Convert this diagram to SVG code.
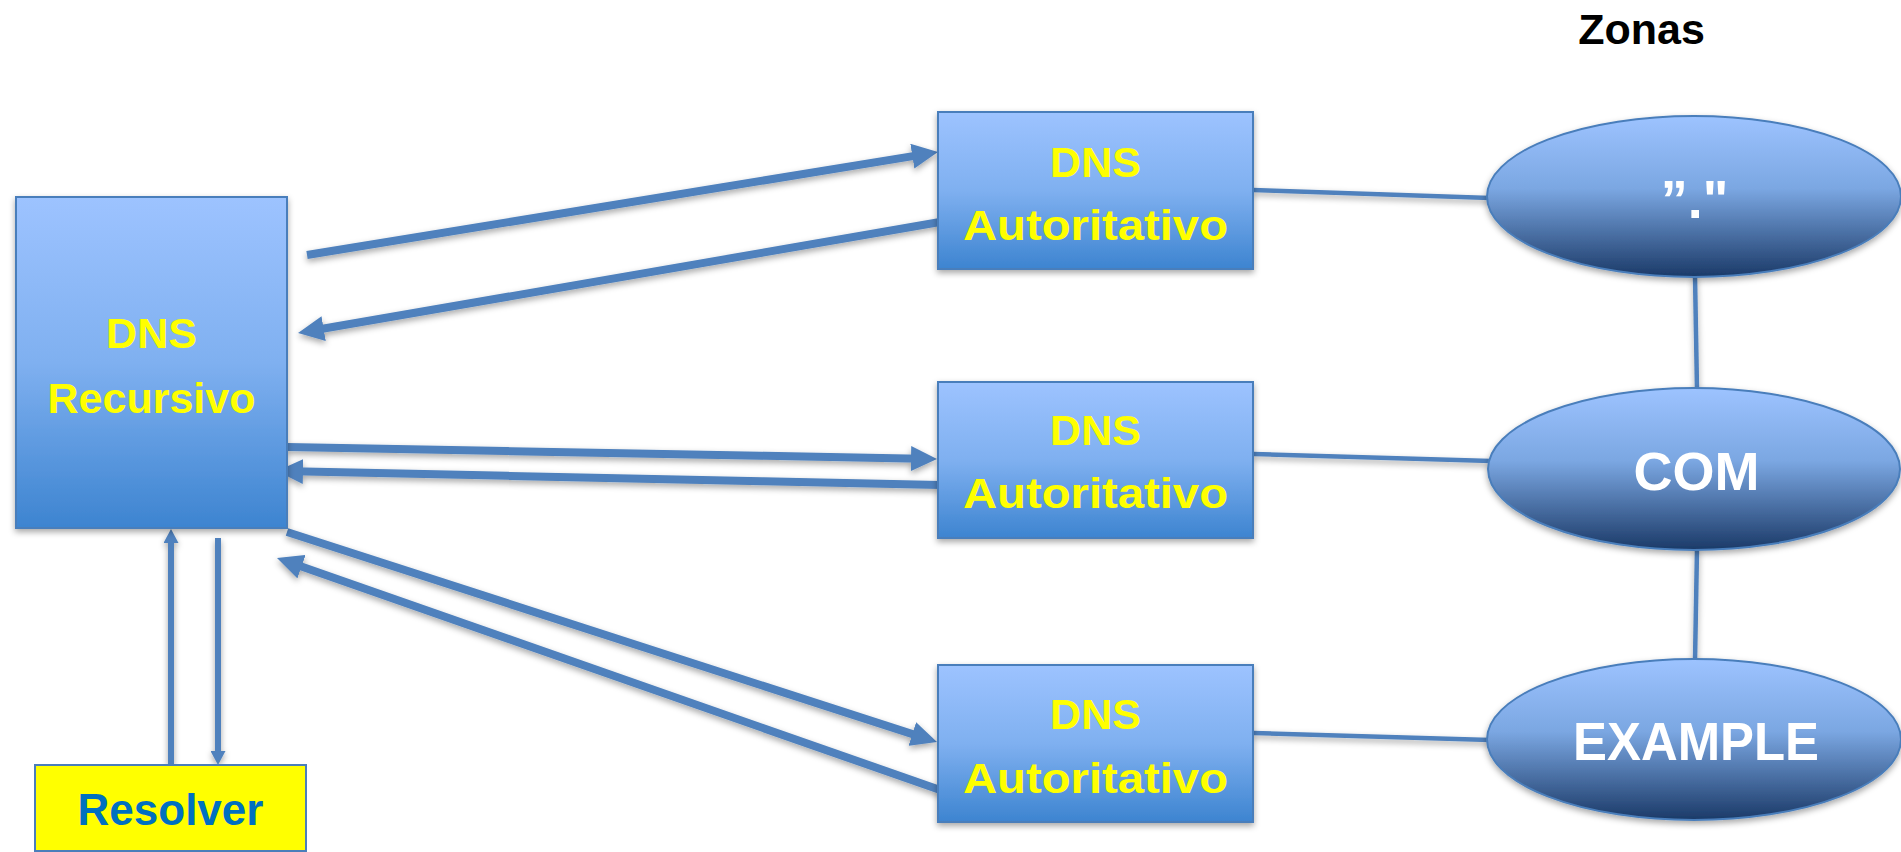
<svg xmlns="http://www.w3.org/2000/svg" width="1901" height="852" viewBox="0 0 1901 852">
<style>
.box{stroke:#4a7ebb;stroke-width:2;fill:url(#boxg)}
.ell{stroke:#4a7ebb;stroke-width:2;fill:url(#ellg)}
.t{font-family:"Liberation Sans",Arial,sans-serif;font-weight:bold;text-anchor:middle}
.y{fill:#ffff00;font-size:43px}
.w{fill:#ffffff;font-size:54px}
.arr{stroke:#4f81bd;stroke-width:8;fill:none}
.arrs{stroke:#4f81bd;stroke-width:6;fill:none}
.ln{stroke:#4f81bd;stroke-width:4.5;fill:none}
</style>
<defs>
<linearGradient id="boxg" x1="0" y1="0" x2="0" y2="1">
<stop offset="0" stop-color="#9dc3ff"/>
<stop offset="0.5" stop-color="#7fb0f0"/>
<stop offset="1" stop-color="#3d84d0"/>
</linearGradient>
<linearGradient id="ellg" x1="0" y1="0" x2="0" y2="1">
<stop offset="0" stop-color="#9dc3ff"/>
<stop offset="0.45" stop-color="#7ba7e2"/>
<stop offset="1" stop-color="#1b3a68"/>
</linearGradient>
<filter id="sh" x="-10%" y="-10%" width="130%" height="130%">
<feDropShadow dx="0" dy="3" stdDeviation="3" flood-color="#000" flood-opacity="0.35"/>
</filter>
<marker id="ah" markerUnits="userSpaceOnUse" markerWidth="26" markerHeight="25" refX="10" refY="12.5" orient="auto">
<path d="M0,0 L26,12.5 L0,25 z" fill="#4f81bd"/>
</marker>
<marker id="ahs" markerUnits="userSpaceOnUse" markerWidth="14" markerHeight="15" refX="4" refY="7.5" orient="auto">
<path d="M0,0 L14,7.5 L0,15 z" fill="#4f81bd"/>
</marker>
</defs>
<rect width="1901" height="852" fill="#ffffff"/>

<text class="t" x="1641.5" y="44" font-size="43" fill="#000000">Zonas</text>

<g id="connectors" filter="url(#sh)">
<line class="arr" x1="307" y1="255" x2="922.2" y2="154.6" marker-end="url(#ah)"/>
<line class="arr" x1="940" y1="222" x2="313.8" y2="330.3" marker-end="url(#ah)"/>
<line class="arr" x1="287" y1="447" x2="921" y2="458.7" marker-end="url(#ah)"/>
<line class="arr" x1="940" y1="485" x2="293" y2="471.3" marker-end="url(#ah)"/>
<line class="arr" x1="287" y1="532" x2="921.8" y2="737.1" marker-end="url(#ah)"/>
<line class="arr" x1="943" y1="791" x2="292.1" y2="563.3" marker-end="url(#ah)"/>
<line class="arrs" x1="171" y1="765" x2="171" y2="539" marker-end="url(#ahs)"/>
<line class="arrs" x1="218" y1="538" x2="218" y2="755" marker-end="url(#ahs)"/>
<line class="ln" x1="1253" y1="190" x2="1490" y2="198"/>
<line class="ln" x1="1253" y1="454" x2="1491" y2="461"/>
<line class="ln" x1="1253" y1="733" x2="1490" y2="740"/>
<line class="ln" x1="1695" y1="276" x2="1697" y2="390"/>
<line class="ln" x1="1697" y1="549" x2="1695" y2="661"/>
</g>

<g id="recursivo">
<rect class="box" x="16" y="197" width="271" height="331" filter="url(#sh)"/>
<text class="t y" x="151.5" y="348">DNS</text>
<text class="t y" x="151.5" y="413">Recursivo</text>
</g>

<g id="resolver">
<rect x="35" y="765" width="271" height="86" fill="#ffff00" stroke="#4a7ebb" stroke-width="2"/>
<text class="t" x="170.5" y="825" font-size="44" fill="#0070c0">Resolver</text>
</g>

<g id="auth1">
<rect class="box" x="938" y="112" width="315" height="157" filter="url(#sh)"/>
<text class="t y" x="1095.5" y="177">DNS</text>
<text class="t y" x="1095.5" y="240" textLength="265" lengthAdjust="spacingAndGlyphs">Autoritativo</text>
</g>

<g id="auth2">
<rect class="box" x="938" y="382" width="315" height="156" filter="url(#sh)"/>
<text class="t y" x="1095.5" y="445">DNS</text>
<text class="t y" x="1095.5" y="508" textLength="265" lengthAdjust="spacingAndGlyphs">Autoritativo</text>
</g>

<g id="auth3">
<rect class="box" x="938" y="665" width="315" height="157" filter="url(#sh)"/>
<text class="t y" x="1095.5" y="729">DNS</text>
<text class="t y" x="1095.5" y="793" textLength="265" lengthAdjust="spacingAndGlyphs">Autoritativo</text>
</g>

<g id="zone-root">
<ellipse class="ell" cx="1694" cy="196.5" rx="207" ry="80.5" filter="url(#sh)"/>
<text class="t w" x="1694.5" y="218">”."</text>
</g>

<g id="zone-com">
<ellipse class="ell" cx="1694" cy="469" rx="206" ry="81" filter="url(#sh)"/>
<text class="t w" x="1696.5" y="490">COM</text>
</g>

<g id="zone-example">
<ellipse class="ell" cx="1694" cy="739.5" rx="207" ry="80.5" filter="url(#sh)"/>
<text class="t w" x="1696" y="760" textLength="246" lengthAdjust="spacingAndGlyphs">EXAMPLE</text>
</g>
</svg>
